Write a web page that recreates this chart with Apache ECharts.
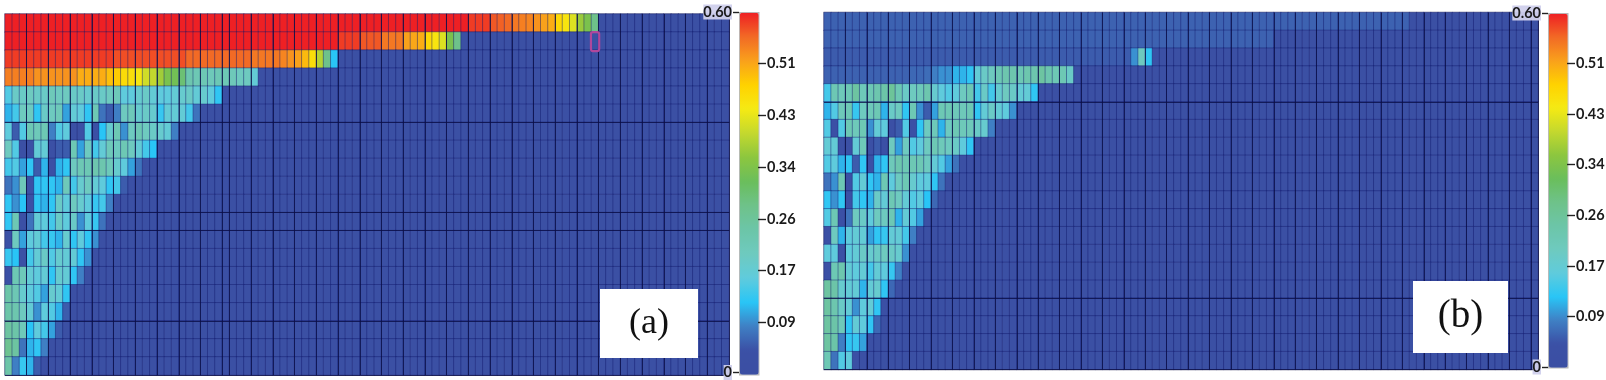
<!DOCTYPE html>
<html>
<head>
<meta charset="utf-8">
<style>html,body{margin:0;padding:0;background:#fff;}#c{width:1606px;height:380px;}</style>
<script src="https://cdn.jsdelivr.net/npm/echarts@6/dist/echarts.min.js"></script>
</head>
<body>
<div id="c"></div>
<script>
const tickLabels = ['0','0.09','0.17','0.26','0.34','0.43','0.51','0.60'];
const tickValues = [0,0.0857,0.1714,0.2571,0.3429,0.4286,0.5143,0.6];
const innerTickValues = [0.0857,0.1714,0.2571,0.3429,0.4286,0.5143];
const endTickValues = [0,0.6];
const colorRamp = ['#3b4fa3','#3b50a5','#3f7fc4','#29c5f6','#5fcbdc','#6ecabf','#6cc5a8','#6ec28a','#6abe5c','#8cc63f','#c3d82e','#f5ea14','#ffd200','#f9a11b','#f26a25','#ee2024'];
const backgroundValue = 0.02;
const columnCount = 100;
const rowCount = 20;

// panel (a): values of the cells left of the blue background, one list per row
const aRows = [
 [.6,.6,.6,.6,.6,.6,.6,.6,.6,.6, .6,.6,.6,.6,.6,.6,.6,.6,.6,.6, .6,.6,.6,.6,.6,.6,.6,.6,.6,.6, .6,.6,.6,.6,.6,.6,.6,.6,.6,.6, .6,.6,.6,.6,.6,.6,.6,.6,.6,.6, .6,.6,.6,.6,.6,.6,.6,.6,.6,.6, .6,.6,.6,.6,.585,.585,.585,.57,.565,.56, .55,.545,.54,.53,.52,.51,.47,.45,.42,.37, .34,.28],
 [.6,.6,.6,.6,.6,.6,.6,.6,.6,.6, .6,.6,.6,.6,.6,.6,.6,.6,.6,.6, .6,.6,.6,.6,.6,.6,.6,.6,.6,.6, .6,.6,.6,.6,.6,.6,.6,.6,.6,.6, .6,.6,.6,.6,.6,.6,.585,.585,.585,.57, .57,.57,.55,.55,.55,.52,.515,.51,.47,.45, .42,.34,.28],
 [.585,.585,.585,.585,.585,.585,.585,.585,.585,.585, .585,.585,.585,.585,.585,.575,.575,.575,.575,.575, .575,.575,.575,.575,.575,.56,.56,.56,.56,.56, .56,.56,.56,.56,.55,.55,.55,.55,.54,.53, .52,.50,.46,.39,.28,.12],
 [.545,.545,.545,.545,.53,.53,.53,.53,.53,.53, .51,.51,.51,.51,.495,.485,.465,.46,.445,.41, .40,.375,.34,.33,.30,.23,.22,.22,.21,.22, .22,.21,.2,.2,.17],
 [.15,.19,.19,.2,.19,.19,.21,.2,.2,.19, .19,.18,.19,.19,.2,.21,.16,.16,.18,.19, .17,.16,.16,.17,.18,.19,.17,.18,.16,.125],
 [.11,.14,.2,.2,.125,.19,.2,.21,.10,.17, .16,.125,.22,.07,.05,.08,.2,.21,.18,.19, .18,.13,.17,.17,.17,.14,.07],
 [.16,.05,.15,.22,.21,.22,.08,.15,.16,.04, .04,.15,.04,.12,.18,.22,.09,.2,.22,.2, .19,.18,.17,.08],
 [.2,.15,.03,.04,.17,.17,.04,.05,.05,.22, .1,.2,.14,.17,.21,.2,.22,.2,.17,.14, .12],
 [.14,.15,.10,.125,.05,.11,.03,.11,.125,.2, .22,.22,.23,.23,.21,.18,.16,.10,.07],
 [.07,.09,.21,.04,.125,.125,.125,.11,.21,.14, .18,.2,.17,.16,.125,.14,.05,.03],
 [.125,.09,.12,.04,.125,.11,.125,.19,.16,.2, .18,.16,.13,.14,.08],
 [.125,.22,.03,.07,.17,.16,.14,.19,.16,.19, .09,.16,.13,.07],
 [.03,.2,.1,.16,.17,.14,.13,.11,.18,.125, .16,.125,.09],
 [.13,.12,.04,.14,.17,.19,.15,.18,.17,.17, .125,.09],
 [.04,.22,.21,.17,.16,.17,.125,.18,.17,.125, .08],
 [.24,.22,.18,.16,.15,.10,.18,.17,.125],
 [.24,.23,.2,.17,.09,.16,.15,.11,.05],
 [.25,.24,.21,.12,.16,.14,.10,.05],
 [.27,.25,.07,.11,.125,.08],
 [.24,.08,.13,.11,.05,.04]
];

// panel (b)
const bRows = [
 [.055,.055,.055,.055,.055,.055,.055,.055,.055,.055, .055,.055,.055,.055,.055,.055,.055,.055,.055,.055, .055,.055,.055,.055,.055,.055,.055,.055,.055,.055, .055,.055,.055,.055,.055,.055,.055,.055,.055,.055, .055,.055,.055,.055,.055,.055,.055,.055,.055,.055, .055,.055,.055,.055,.055,.055,.055,.055,.055,.055, .055,.055,.055,.055,.055,.055,.055,.055,.055,.055, .055,.055,.055,.055,.055,.055,.055,.055,.055,.055, .055,.055],
 [.055,.055,.055,.055,.055,.055,.055,.055,.055,.055, .055,.055,.055,.055,.055,.055,.055,.055,.055,.055, .055,.055,.055,.055,.055,.055,.055,.055,.055,.055, .055,.055,.055,.055,.055,.055,.055,.055,.055,.055, .055,.055,.055,.055,.055,.055,.055,.055,.055,.055, .055,.055,.055,.055,.055,.055,.055,.055,.055,.055, .055,.055,.055],
 [.05,.05,.05,.05,.05,.05,.05,.05,.05,.05, .05,.05,.05,.05,.05,.05,.05,.05,.05,.05, .05,.05,.05,.05,.05,.05,.05,.05,.05,.05, .05,.05,.05,.05,.05,.05,.05,.05,.05,.05, .05,.05,.05,.09,.2,.125],
 [.055,.055,.055,.055,.055,.055,.055,.055,.055,.055, .055,.055,.06,.06,.065,.08,.09,.09,.11,.11, .125,.17,.19,.2,.22,.23,.23,.22,.23,.23, .25,.23,.22,.22,.19],
 [.14,.22,.21,.22,.25,.21,.22,.23,.24,.26, .22,.19,.2,.21,.23,.18,.16,.15,.16,.2, .22,.14,.19,.14,.18,.2,.19,.17,.17,.125],
 [.11,.15,.21,.22,.13,.2,.21,.22,.11,.19, .2,.125,.22,.09,.05,.1,.22,.22,.21,.21, .22,.125,.17,.19,.17,.16,.09],
 [.15,.04,.15,.22,.21,.22,.09,.17,.16,.04, .05,.15,.04,.125,.2,.21,.11,.2,.22,.21, .21,.19,.18,.08],
 [.17,.17,.03,.04,.17,.21,.04,.05,.04,.2, .1,.2,.15,.16,.2,.22,.21,.2,.19,.16, .125],
 [.15,.16,.11,.125,.05,.125,.04,.11,.125,.21, .23,.22,.22,.22,.2,.17,.15,.1,.07],
 [.07,.09,.22,.04,.15,.17,.125,.11,.22,.16, .2,.22,.18,.16,.16,.125,.07],
 [.125,.09,.125,.04,.14,.125,.11,.19,.17,.22, .2,.17,.15,.16,.12,.06],
 [.15,.22,.04,.07,.2,.19,.16,.2,.2,.22, .11,.17,.15,.1],
 [.04,.2,.11,.16,.17,.17,.1,.125,.13,.17, .17,.14,.08],
 [.16,.16,.04,.16,.17,.19,.18,.19,.2,.19, .18,.09],
 [.04,.22,.23,.17,.16,.17,.14,.17,.16,.13, .08],
 [.25,.24,.18,.17,.17,.11,.17,.18,.125,.06],
 [.25,.23,.19,.17,.09,.16,.17,.125,.04],
 [.25,.24,.21,.125,.17,.16,.125,.06],
 [.25,.24,.08,.125,.13,.1,.04],
 [.22,.07,.15,.16,.03]
];

const aHighlightCell = [81, 1];
const aMajorRows = [6, 11, 12, 17];
const bMajorRows = [5, 16];

const cols = Array.from({length: columnCount}, (_, i) => String(i));
const rows = Array.from({length: rowCount}, (_, i) => String(i));

function cells(rowLists) {
  const out = [];
  rowLists.forEach((list, r) => {
    for (let c = 0; c < columnCount; c++) {
      out.push([c, r, c < list.length ? list[c] : backgroundValue]);
    }
  });
  return out;
}

const majorColour = 'rgba(10,14,70,0.8)';
function xAxisFor(grid, isMajor) {
  return {
    type: 'category', gridIndex: grid, data: cols, z: 5,
    axisLine: {show: false}, axisTick: {show: false}, axisLabel: {show: false},
    splitLine: {show: true, interval: isMajor, lineStyle: {color: majorColour, width: 1}}
  };
}
function yAxisFor(grid, majorRows) {
  return {
    type: 'category', gridIndex: grid, data: rows, inverse: true, z: 5,
    axisLine: {show: false}, axisTick: {show: false}, axisLabel: {show: false},
    splitLine: {show: true, interval: i => majorRows.includes(i), lineStyle: {color: majorColour, width: 1.1}}
  };
}
function heat(axis, rowLists) {
  return {
    type: 'heatmap', xAxisIndex: axis, yAxisIndex: axis, data: cells(rowLists),
    progressive: 0, animation: false,
    itemStyle: {borderColor: 'rgba(18,26,110,0.42)', borderWidth: 1},
    emphasis: {disabled: true}
  };
}
const labelFont = {fontFamily: 'Lato', fontSize: 14.5, fontWeight: 'bold', color: '#1a1a1a'};
const labelFor = v => tickLabels[tickValues.indexOf(v)];
// ticks and labels on the outer side of a colour bar: the axis sits past the bar's edge,
// its ticks reach back to the bar and its labels continue outward
function outerAxis(grid) {
  return {
    type: 'value', gridIndex: grid, position: 'left', min: 0, max: 0.6, z: 6,
    splitLine: {show: false},
    axisLine: {show: false},
    axisTick: {show: true, length: 8, customValues: innerTickValues, lineStyle: {color: '#222', width: 1.4}},
    axisLabel: Object.assign({show: true, inside: true, margin: 1, customValues: innerTickValues, formatter: labelFor}, labelFont)
  };
}
function endAxis(grid) {
  return {
    type: 'value', gridIndex: grid, position: 'left', min: 0, max: 0.6, z: 6,
    splitLine: {show: false},
    axisLine: {show: false},
    axisTick: {show: true, length: 6, customValues: endTickValues, lineStyle: {color: '#222', width: 1.4}},
    axisLabel: Object.assign({show: true, margin: 7, customValues: endTickValues, formatter: labelFor, showMinLabel: true, showMaxLabel: true,
      backgroundColor: 'rgba(208,208,236,0.95)', padding: [0, 0, 0, 0]}, labelFont)
  };
}
function colourBar(series, left, top, height) {
  return {
    type: 'continuous', seriesIndex: series, min: 0, max: 0.6, calculable: false,
    left: left, top: top, itemWidth: 19, itemHeight: height, padding: 0,
    borderColor: '#b8b8b8', borderWidth: 1.5, hoverLink: false,
    inRange: {color: colorRamp}, showLabel: false, text: null
  };
}
function labelBox(x, y, w, h, str, size) {
  return [
    {type: 'rect', z: 20, shape: {x: x, y: y, width: w, height: h}, style: {fill: '#fff'}},
    {type: 'text', z: 21, x: x + w / 2, y: y + h / 2, style: {text: str, fill: '#111', font: size + 'px "Liberation Serif"', align: 'center', verticalAlign: 'middle'}}
  ];
}

const aXAxis = xAxisFor(0, i => (i <= 30 ? i % 3 === 0 : i % 3 === 1) && i > 0);
const bXAxis = xAxisFor(1, i => i % 3 === 0 && i > 0);

const option = {
  animation: false,
  backgroundColor: '#fff',
  grid: [
    {left: 5, top: 14, width: 724, height: 361, show: true, borderColor: '#bdbdbd', borderWidth: 1.5, backgroundColor: 'transparent'},
    {left: 824, top: 12.5, width: 714, height: 357, show: true, borderColor: '#bdbdbd', borderWidth: 1.5, backgroundColor: 'transparent'},
    {left: 739, top: 12, width: 19, height: 362},
    {left: 1548, top: 13, width: 19, height: 354},
    {left: 766, top: 12, width: 30, height: 362},
    {left: 1575, top: 13, width: 30, height: 354}
  ],
  xAxis: [
    aXAxis, bXAxis,
    {type: 'value', gridIndex: 2, show: false},
    {type: 'value', gridIndex: 3, show: false},
    {type: 'value', gridIndex: 4, show: false},
    {type: 'value', gridIndex: 5, show: false}
  ],
  yAxis: [yAxisFor(0, aMajorRows), yAxisFor(1, bMajorRows), endAxis(2), endAxis(3), outerAxis(4), outerAxis(5)],
  visualMap: [colourBar(0, 739, 12, 362), colourBar(1, 1548, 13, 354)],
  series: [
    heat(0, aRows),
    heat(1, bRows),
    {
      type: 'custom', xAxisIndex: 0, yAxisIndex: 0, z: 10, data: [aHighlightCell], silent: true,
      renderItem: (params, api) => {
        const c = api.coord([api.value(0), api.value(1)]);
        const s = api.size([1, 1]);
        return {type: 'rect', shape: {x: c[0] - s[0] / 2 - 0.5, y: c[1] - s[1] / 2, width: s[0] + 1, height: s[1] + 1, r: 2},
          style: {fill: 'transparent', stroke: '#b0479c', lineWidth: 2.2}};
      }
    }
  ],
  graphic: {elements: labelBox(600, 289, 98, 69, '(a)', 36).concat(labelBox(1413, 281, 95, 72, '(b)', 39))}
};
const chart = echarts.init(document.getElementById('c'), null, {renderer: 'canvas'});
chart.setOption(option);
</script>
</body>
</html>
